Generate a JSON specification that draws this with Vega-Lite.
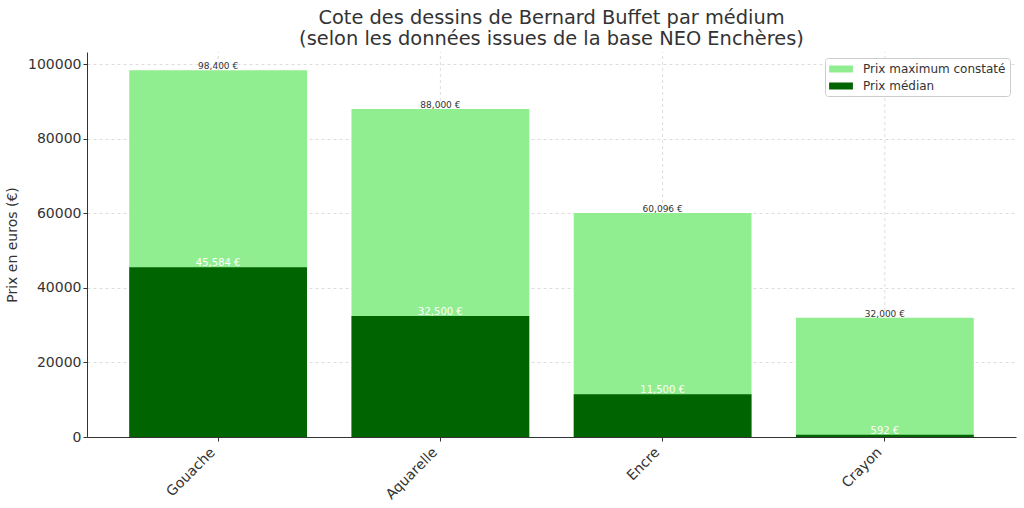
{
  "$schema": "https://vega.github.io/schema/vega-lite/v6.json",
  "autosize": "none",
  "padding": {"left": 87, "top": 52, "right": 8, "bottom": 71},
  "width": 929,
  "height": 385,
  "background": "white",
  "config": {
    "view": {"stroke": null},
    "font": "DejaVu Sans",
    "axis": {"labelFont": "DejaVu Sans", "titleFont": "DejaVu Sans"}
  },
  "title": {
    "text": ["Cote des dessins de Bernard Buffet par médium", "(selon les données issues de la base NEO Enchères)"],
    "font": "DejaVu Sans",
    "fontSize": 19.4,
    "fontWeight": "normal",
    "color": "#333333",
    "anchor": "middle",
    "offset": 2,
    "lineHeight": 21
  },
  "data": {
    "values": [
      {"medium": "Gouache", "serie": "Prix maximum constaté", "value": 98400},
      {"medium": "Aquarelle", "serie": "Prix maximum constaté", "value": 88000},
      {"medium": "Encre", "serie": "Prix maximum constaté", "value": 60096},
      {"medium": "Crayon", "serie": "Prix maximum constaté", "value": 32000},
      {"medium": "Gouache", "serie": "Prix médian", "value": 45584},
      {"medium": "Aquarelle", "serie": "Prix médian", "value": 32500},
      {"medium": "Encre", "serie": "Prix médian", "value": 11500},
      {"medium": "Crayon", "serie": "Prix médian", "value": 592}
    ]
  },
  "transform": [
    {"calculate": "format(datum.value, ',') + ' €'", "as": "label"}
  ],
  "encoding": {
    "x": {
      "field": "medium",
      "type": "nominal",
      "sort": ["Gouache", "Aquarelle", "Encre", "Crayon"],
      "scale": {"paddingInner": 0.2, "paddingOuter": 0.19},
      "axis": {
        "title": null,
        "labelAngle": -45,
        "labelAlign": "right",
        "labelBaseline": "top",
        "labelFontSize": 14,
        "labelColor": "#333333",
        "labelPadding": 4,
        "labelOffset": -10,
        "grid": false,
        "domainColor": "#333333",
        "tickColor": "#333333",
        "tickSize": 4
      }
    }
  },
  "layer": [
    {
      "transform": [{"filter": "datum.serie === 'Prix médian'"}],
      "mark": {"type": "rule", "color": "#dddddd", "strokeDash": [3, 3], "strokeWidth": 1},
      "encoding": {
        "y": {"datum": 0, "type": "quantitative", "scale": {"domain": [0, 103320], "nice": false}},
        "y2": {"datum": 103320}
      }
    },
    {
      "mark": {"type": "bar"},
      "encoding": {
        "y": {
          "field": "value",
          "type": "quantitative",
          "stack": null,
          "scale": {"domain": [0, 103320], "nice": false},
          "axis": {
            "title": "Prix en euros (€)",
            "titleFontSize": 14,
            "titleFontWeight": "normal",
            "titleColor": "#333333",
            "titlePadding": 8,
            "values": [0, 20000, 40000, 60000, 80000, 100000],
            "format": "d",
            "labelFontSize": 14,
            "labelColor": "#333333",
            "grid": true,
            "gridColor": "#dddddd",
            "gridDash": [3, 3],
            "domainColor": "#333333",
            "tickColor": "#333333",
            "tickSize": 4
          }
        },
        "color": {
          "field": "serie",
          "type": "nominal",
          "sort": ["Prix maximum constaté", "Prix médian"],
          "scale": {"domain": ["Prix maximum constaté", "Prix médian"], "range": ["#90ee90", "#006400"]},
          "legend": {
            "title": null,
            "orient": "none",
            "legendX": 738,
            "legendY": 6,
            "fillColor": "white",
            "strokeColor": "#cccccc",
            "cornerRadius": 3,
            "padding": 4,
            "labelFontSize": 12,
            "labelColor": "#333333",
            "labelOffset": 15,
            "symbolOffset": 5,
            "symbolType": "M-1.7,-0.5H1.7V0.5H-1.7Z",
            "symbolSize": 196,
            "symbolStrokeWidth": 0,
            "rowPadding": 4
          }
        },
        "order": {"field": "serie", "sort": "ascending"}
      }
    },
    {
      "transform": [{"filter": "datum.serie === 'Prix maximum constaté'"}],
      "mark": {"type": "text", "baseline": "bottom", "dy": 1, "fontSize": 9, "color": "#333333"},
      "encoding": {"y": {"field": "value", "type": "quantitative"}, "text": {"field": "label"}}
    },
    {
      "transform": [{"filter": "datum.serie === 'Prix médian'"}],
      "mark": {"type": "text", "baseline": "bottom", "dy": 1, "fontSize": 10, "color": "white"},
      "encoding": {"y": {"field": "value", "type": "quantitative"}, "text": {"field": "label"}}
    }
  ]
}
